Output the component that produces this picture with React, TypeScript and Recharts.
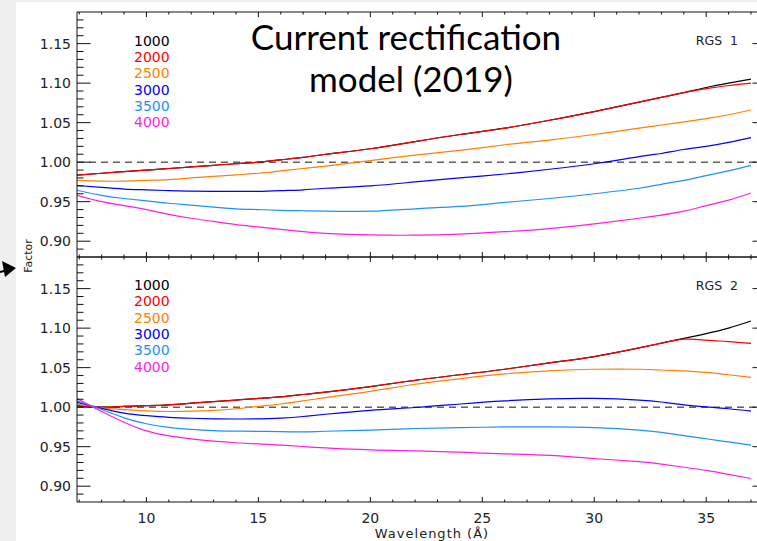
import { LineChart, Line, XAxis, YAxis, ReferenceLine } from "recharts";

// wavelength grid (Å) the curves were read at
const wavelengths = [6.9, 8, 9, 10, 11, 12, 13, 14, 15, 16, 17, 18, 20, 22, 24, 26, 28, 30, 32, 33, 34, 35, 36, 37];

const seriesNames = ["1000", "2000", "2500", "3000", "3500", "4000"];
const seriesColors = ["#000000", "#ff0000", "#ff8000", "#0000ff", "#1e8fff", "#ff1ee0"];

// RGS 1
const rgs1_1000 = [0.9835, 0.986, 0.988, 0.99, 0.992, 0.994, 0.996, 0.998, 1.0, 1.003, 1.006, 1.01, 1.017, 1.026, 1.035, 1.043, 1.053, 1.064, 1.076, 1.082, 1.088, 1.0945, 1.1, 1.105];
const rgs1_2000 = [0.9835, 0.986, 0.988, 0.99, 0.992, 0.994, 0.996, 0.998, 1.0, 1.003, 1.006, 1.01, 1.017, 1.026, 1.035, 1.043, 1.053, 1.064, 1.076, 1.082, 1.088, 1.093, 1.097, 1.1];
const rgs1_2500 = [0.977, 0.976, 0.976, 0.977, 0.978, 0.98, 0.982, 0.984, 0.986, 0.989, 0.992, 0.995, 1.002, 1.009, 1.015, 1.022, 1.028, 1.035, 1.043, 1.047, 1.051, 1.055, 1.06, 1.066];
const rgs1_3000 = [0.9705, 0.968, 0.966, 0.965, 0.964, 0.9633, 0.963, 0.963, 0.963, 0.964, 0.965, 0.967, 0.97, 0.975, 0.98, 0.985, 0.991, 0.998, 1.007, 1.011, 1.016, 1.02, 1.025, 1.031];
const rgs1_3500 = [0.9645, 0.958, 0.954, 0.951, 0.948, 0.9456, 0.943, 0.941, 0.94, 0.939, 0.9385, 0.938, 0.938, 0.941, 0.944, 0.949, 0.954, 0.96, 0.967, 0.972, 0.977, 0.983, 0.989, 0.996];
const rgs1_4000 = [0.958, 0.95, 0.945, 0.94, 0.934, 0.929, 0.925, 0.921, 0.918, 0.915, 0.912, 0.91, 0.908, 0.9076, 0.909, 0.912, 0.916, 0.922, 0.929, 0.933, 0.938, 0.945, 0.952, 0.961];

// RGS 2
const rgs2_1000 = [1.002, 1.0, 1.001, 1.002, 1.003, 1.005, 1.007, 1.009, 1.011, 1.013, 1.016, 1.019, 1.026, 1.034, 1.041, 1.048, 1.056, 1.064, 1.075, 1.081, 1.087, 1.093, 1.1, 1.109];
const rgs2_2000 = [1.002, 1.0, 1.001, 1.002, 1.003, 1.005, 1.007, 1.009, 1.011, 1.013, 1.016, 1.019, 1.026, 1.034, 1.041, 1.048, 1.056, 1.064, 1.075, 1.081, 1.086, 1.0848, 1.083, 1.0806];
const rgs2_2500 = [1.004, 0.999, 0.997, 0.9953, 0.9945, 0.995, 0.996, 0.998, 1.001, 1.004, 1.008, 1.012, 1.02, 1.029, 1.036, 1.042, 1.046, 1.048, 1.048, 1.047, 1.046, 1.044, 1.041, 1.0376];
const rgs2_3000 = [1.006, 0.9985, 0.9925, 0.9893, 0.9872, 0.986, 0.9853, 0.985, 0.9852, 0.9862, 0.9882, 0.991, 0.996, 0.9996, 1.004, 1.008, 1.0105, 1.011, 1.009, 1.0065, 1.003, 1.0004, 0.998, 0.995];
const rgs2_3500 = [1.008, 0.997, 0.9865, 0.979, 0.9745, 0.9718, 0.9703, 0.9697, 0.9694, 0.969, 0.9688, 0.9695, 0.971, 0.973, 0.974, 0.975, 0.975, 0.974, 0.971, 0.968, 0.964, 0.96, 0.956, 0.952];
const rgs2_4000 = [1.011, 0.9945, 0.981, 0.97, 0.9637, 0.9598, 0.957, 0.955, 0.9535, 0.952, 0.9502, 0.9485, 0.946, 0.9447, 0.943, 0.941, 0.939, 0.935, 0.931, 0.928, 0.924, 0.92, 0.915, 0.9097];

const xMajorTicks = [10, 15, 20, 25, 30, 35];
const yMajorTicks = [0.9, 0.95, 1.0, 1.05, 1.1, 1.15];

const X_DOMAIN = [6.9, 37.67];
const Y_DOMAIN = [0.88, 1.19];

// minor ticks every 1 Å and every 0.01
const xTicks: number[] = [];
for (let i = 7; i <= 37; i++) xTicks.push(i);
const yTicks: number[] = [];
for (let i = 89; i <= 118; i++) yTicks.push(i / 100);

const buildRows = (cols: number[][]) =>
  wavelengths.map((x, i) => {
    const row: any = { x };
    seriesNames.forEach((name, k) => (row["s" + name] = cols[k][i]));
    return row;
  });

const rgs1Data = buildRows([rgs1_1000, rgs1_2000, rgs1_2500, rgs1_3000, rgs1_3500, rgs1_4000]);
const rgs2Data = buildRows([rgs2_1000, rgs2_2000, rgs2_2500, rgs2_3000, rgs2_3500, rgs2_4000]);

const PLOT_L = 77;
const PLOT_R = 766;
const CHART_W = 800;
const FONT = "'DejaVu Sans', sans-serif";

const makeYTick = (side: "left" | "right") => (props: any) => {
  const { y, payload } = props;
  const major = yMajorTicks.some((t) => Math.abs(t - payload.value) < 1e-6);
  const len = major ? 13.5 : 6.5;
  const x0 = side === "left" ? PLOT_L : PLOT_R;
  const x1 = side === "left" ? x0 + len : x0 - len;
  return (
    <g>
      <line x1={x0} x2={x1} y1={y} y2={y} stroke="#111" strokeWidth={1} />
      {side === "left" && major && (
        <text x={x0 - 6} y={y} dy="0.36em" textAnchor="end" fontSize={14} fontFamily={FONT} fill="#222">
          {payload.value.toFixed(2)}
        </text>
      )}
    </g>
  );
};

const makeXTick = (frameY: number, dir: 1 | -1, labels: boolean) => (props: any) => {
  const { x, payload } = props;
  const major = xMajorTicks.includes(payload.value);
  const len = major ? 5 : 2.5;
  return (
    <g>
      <line x1={x} x2={x} y1={frameY} y2={frameY + dir * len} stroke="#111" strokeWidth={1} />
      {labels && major && (
        <text x={x} y={frameY + 16} dy="0.36em" textAnchor="middle" fontSize={14} fontFamily={FONT} fill="#222">
          {payload.value}
        </text>
      )}
    </g>
  );
};

interface PanelProps {
  data: any[];
  height: number;
  marginTop: number;
  marginBottom: number;
  bottomAxisHeight: number;
  labels: boolean;
}

const Panel = ({ data, height, marginTop, marginBottom, bottomAxisHeight, labels }: PanelProps) => {
  const plotTop = marginTop + 1;
  const plotBottom = height - marginBottom - bottomAxisHeight;
  return (
    <LineChart width={CHART_W} height={height} data={data} margin={{ top: marginTop, right: CHART_W - PLOT_R - 1, bottom: marginBottom, left: 0 }}>
      <XAxis
        xAxisId="b"
        dataKey="x"
        type="number"
        domain={X_DOMAIN}
        allowDataOverflow
        ticks={xTicks}
        interval={0}
        height={bottomAxisHeight}
        tickLine={false}
        axisLine={{ stroke: "#111" }}
        tick={makeXTick(plotBottom, -1, labels)}
      />
      <XAxis
        xAxisId="t"
        orientation="top"
        dataKey="x"
        type="number"
        domain={X_DOMAIN}
        allowDataOverflow
        ticks={xTicks}
        interval={0}
        height={1}
        tickLine={false}
        axisLine={{ stroke: "#111" }}
        tick={makeXTick(plotTop, 1, false)}
      />
      <YAxis
        yAxisId="l"
        type="number"
        domain={Y_DOMAIN}
        allowDataOverflow
        ticks={yTicks}
        interval={0}
        width={PLOT_L}
        tickLine={false}
        axisLine={{ stroke: "#111" }}
        tick={makeYTick("left")}
      />
      <YAxis
        yAxisId="r"
        orientation="right"
        type="number"
        domain={Y_DOMAIN}
        allowDataOverflow
        ticks={yTicks}
        interval={0}
        width={1}
        tickLine={false}
        axisLine={{ stroke: "#111" }}
        tick={makeYTick("right")}
      />
      <ReferenceLine xAxisId="b" yAxisId="l" y={1} stroke="#111" strokeWidth={1} strokeDasharray="7 5" />
      {seriesNames.map((name, k) => (
        <Line
          key={name}
          xAxisId="b"
          yAxisId="l"
          type="natural"
          dataKey={"s" + name}
          stroke={seriesColors[k]}
          strokeWidth={1.2}
          dot={false}
          isAnimationActive={false}
        />
      ))}
    </LineChart>
  );
};

const Legend = ({ top }: { top: number }) => (
  <>
    {seriesNames.map((name, k) => (
      <text key={name} x={134} y={top + k * 16.3} dy="0.36em" fontSize={14} fontFamily={FONT} fill={seriesColors[k]}>
        {name}
      </text>
    ))}
  </>
);

export default function App() {
  return (
    <div style={{ position: "fixed", left: 0, top: 0, width: 757, height: 541, overflow: "hidden", background: "#efefef" }}>
      <div style={{ position: "absolute", left: 16, top: 2, right: 0, bottom: 0, background: "#ffffff" }} />
      <div style={{ position: "absolute", left: 0, top: 0 }}>
        <Panel data={rgs1Data} height={262} marginTop={11} marginBottom={4} bottomAxisHeight={1} labels={false} />
      </div>
      <div style={{ position: "absolute", left: 0, top: 250 }}>
        <Panel data={rgs2Data} height={291} marginTop={6} marginBottom={9} bottomAxisHeight={30} labels={true} />
      </div>
      <svg width={757} height={541} style={{ position: "absolute", left: 0, top: 0, pointerEvents: "none" }}>
        <text x={406} y={50} textAnchor="middle" fontSize={35} fontFamily="Lato, sans-serif" fill="#000">
          Current rectification
        </text>
        <text x={411} y={92} textAnchor="middle" fontSize={35} fontFamily="Lato, sans-serif" fill="#000">
          model (2019)
        </text>
        <Legend top={40.7} />
        <Legend top={285} />
        <text x={738} y={40} dy="0.36em" textAnchor="end" fontSize={12.5} fontFamily={FONT} fill="#222" style={{ whiteSpace: "pre" }}>
          {"RGS  1"}
        </text>
        <text x={738} y={285} dy="0.36em" textAnchor="end" fontSize={12.5} fontFamily={FONT} fill="#222" style={{ whiteSpace: "pre" }}>
          {"RGS  2"}
        </text>
        <text x={432} y={533} dy="0.36em" textAnchor="middle" fontSize={13} letterSpacing={1} fontFamily={FONT} fill="#222">
          Wavelength (Å)
        </text>
        <text transform="translate(32,256) rotate(-90)" textAnchor="middle" fontSize={11} fontFamily={FONT} fill="#222">
          Factor
        </text>
        <line x1={0} y1={272} x2={8} y2={270} stroke="#000" strokeWidth={2} />
        <polygon points="16,268 2,261 5,277" fill="#000" />
      </svg>
    </div>
  );
}
